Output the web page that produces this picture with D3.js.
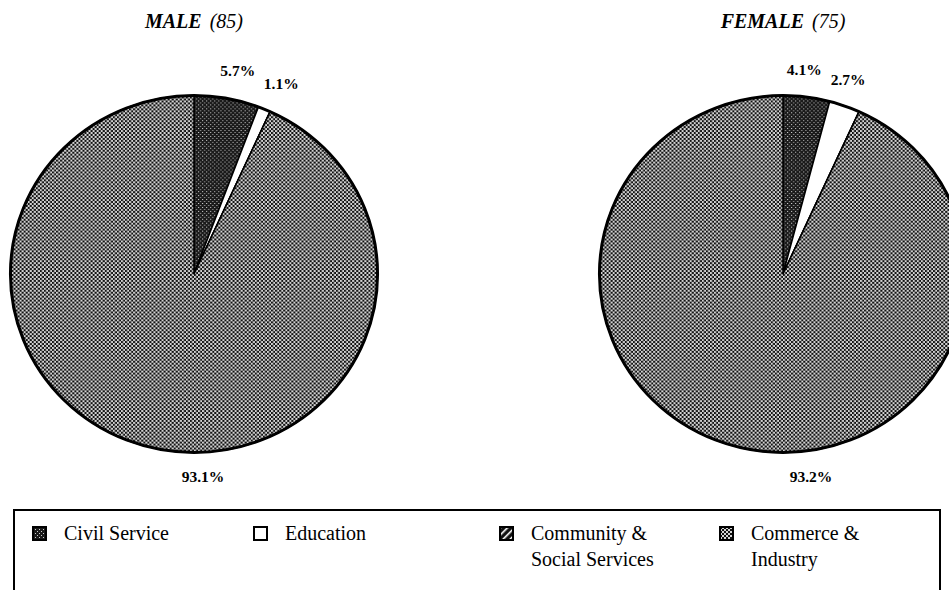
<!DOCTYPE html>
<html>
<head>
<meta charset="utf-8">
<script src="https://cdn.jsdelivr.net/npm/d3@7"></script>
<style>
  body { margin: 0; background: #fff; }
  svg { display: block; font-family: "Liberation Serif", "DejaVu Serif", serif; }
</style>
</head>
<body>
<div id="chart"></div>
<script>
// data
var categories = ["Civil Service", "Education", "Community & Social Services", "Commerce & Industry"];
var groups = ["MALE", "FEMALE"];
var groupCounts = [85, 75];
var maleValues = [5.7, 1.1, 0, 93.1];
var femaleValues = [4.1, 2.7, 0, 93.2];

var w = 949,
    h = 590,
    r = 181;

var centers = [[194, 274], [783, 274]];
var seriesValues = [maleValues, femaleValues];

var svg = d3.select("#chart").append("svg")
    .attr("width", w)
    .attr("height", h);

// halftone style fills
var defs = svg.append("defs");

var pCommerce = defs.append("pattern")
    .attr("id", "commerce")
    .attr("patternUnits", "userSpaceOnUse")
    .attr("width", 4).attr("height", 4);
pCommerce.append("rect").attr("width", 4).attr("height", 4).attr("fill", "#d4d4d4");
pCommerce.append("rect").attr("width", 2).attr("height", 2).attr("fill", "#111");
pCommerce.append("rect").attr("x", 2).attr("y", 2).attr("width", 2).attr("height", 2).attr("fill", "#111");

var pCivil = defs.append("pattern")
    .attr("id", "civil")
    .attr("patternUnits", "userSpaceOnUse")
    .attr("width", 4).attr("height", 4);
pCivil.append("rect").attr("width", 4).attr("height", 4).attr("fill", "#1a1a1a");
pCivil.append("rect").attr("width", 1).attr("height", 1).attr("fill", "#ccc");
pCivil.append("rect").attr("x", 2).attr("y", 2).attr("width", 1).attr("height", 1).attr("fill", "#ccc");

var pHatch = defs.append("pattern")
    .attr("id", "hatch")
    .attr("patternUnits", "userSpaceOnUse")
    .attr("width", 5).attr("height", 5)
    .attr("patternTransform", "rotate(45)");
pHatch.append("rect").attr("width", 5).attr("height", 5).attr("fill", "#111");
pHatch.append("rect").attr("width", 1.6).attr("height", 5).attr("fill", "#fff");

var color = d3.scaleOrdinal()
    .domain(categories)
    .range(["url(#civil)", "#fff", "url(#hatch)", "url(#commerce)"]);

var pie = d3.pie()
    .sort(null)
    .value(function(d) { return d.value; });

var arc = d3.arc()
    .innerRadius(0)
    .outerRadius(r);

var labelArc = d3.arc()
    .innerRadius(r + 31)
    .outerRadius(r + 31);

groups.forEach(function(name, gi) {
  var data = categories.map(function(c, i) {
    return {cat: c, value: seriesValues[gi][i]};
  });
  var arcs = pie(data);
  var biggest = d3.max(data, function(d) { return d.value; });

  var g = svg.append("g")
      .attr("transform", "translate(" + centers[gi][0] + "," + centers[gi][1] + ")");

  // the scanned pies are a touch wider than tall
  var disc = g.append("g")
      .attr("transform", "scale(1.014,0.986)");

  disc.selectAll("path.slice")
      .data(arcs)
      .enter().append("path")
      .attr("class", "slice")
      .attr("d", arc)
      .attr("fill", function(d) { return color(d.data.cat); })
      .attr("stroke", "#000")
      .attr("stroke-width", 1.5)
      .attr("stroke-linejoin", "round");

  disc.append("circle")
      .attr("r", r)
      .attr("fill", "none")
      .attr("stroke", "#000")
      .attr("stroke-width", 3);

  g.selectAll("text.pct")
      .data(arcs.filter(function(d) { return d.data.value > 0; }))
      .enter().append("text")
      .attr("class", "pct")
      .attr("text-anchor", "middle")
      .style("font-size", "15.5px")
      .style("font-weight", "bold")
      .attr("transform", function(d) {
        if (d.data.value === biggest) return "translate(" + (gi === 0 ? 9 : 28) + "," + (r + 27) + ")";
        var c = labelArc.centroid(d);
        return "translate(" + (c[0] + (gi === 0 ? 6 : -6)) + "," + (c[1] + 11) + ")";
      })
      .text(function(d) { return d.data.value.toFixed(1) + "%"; });

  var title = svg.append("text")
      .attr("x", centers[gi][0])
      .attr("y", 28)
      .attr("text-anchor", "middle")
      .style("font-size", "20px")
      .style("font-style", "italic");
  title.append("tspan").style("font-weight", "bold").text(name);
  title.append("tspan").attr("dx", 8).text("(" + groupCounts[gi] + ")");
});

// legend
var legend = svg.append("g");
legend.append("rect")
    .attr("x", 14)
    .attr("y", 510)
    .attr("width", 926)
    .attr("height", 120)
    .attr("fill", "none")
    .attr("stroke", "#000")
    .attr("stroke-width", 2);

var legendX = [33, 254, 500, 720];

var item = legend.selectAll("g.item")
    .data(categories)
    .enter().append("g")
    .attr("class", "item")
    .attr("transform", function(d, i) { return "translate(" + legendX[i] + ",527)"; });

item.append("rect")
    .attr("width", 13)
    .attr("height", 13)
    .attr("fill", function(d) { return color(d); })
    .attr("stroke", "#000")
    .attr("stroke-width", 2);

item.append("text")
    .attr("x", 31)
    .attr("y", 13)
    .style("font-size", "20px")
    .each(function(d) {
      var parts = d.split("& ");
      var t = d3.select(this);
      if (parts.length > 1) {
        t.append("tspan").attr("x", 31).text(parts[0] + "&");
        t.append("tspan").attr("x", 31).attr("dy", 26).text(parts[1]);
      } else {
        t.text(d);
      }
    });
</script>
</body>
</html>
